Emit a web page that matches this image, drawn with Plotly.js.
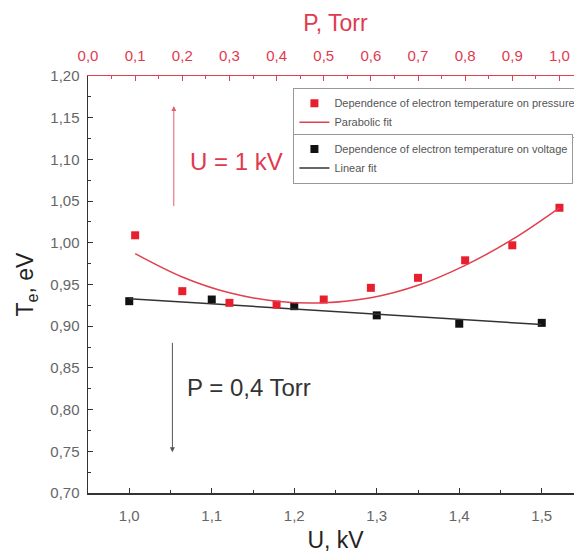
<!DOCTYPE html>
<html>
<head>
<meta charset="utf-8">
<script src="https://cdn.plot.ly/plotly-3.0.1.min.js"></script>
<style>
html,body{margin:0;padding:0;overflow:hidden;background:#fff;}
#chart{width:600px;height:553px;}
</style>
</head>
<body>
<div id="chart"></div>
<script>
// Voltage series (bottom axis)
const U_kV = [1.0, 1.1, 1.2, 1.3, 1.4, 1.5];
const Te_vs_U = [0.930, 0.932, 0.924, 0.913, 0.903, 0.904];
// Linear fit (at its ends)
const fitU_kV = [1.0, 1.5];
const fitTe_U = [0.933, 0.902];

// Pressure series (top axis)
const P_Torr = [0.1, 0.2, 0.3, 0.4, 0.5, 0.6, 0.7, 0.8, 0.9, 1.0];
const Te_vs_P = [1.009, 0.942, 0.928, 0.926, 0.932, 0.946, 0.958, 0.979, 0.997, 1.042];
// Parabolic fit
const fitP_Torr = [0.1, 0.2, 0.3, 0.4, 0.5, 0.6, 0.7, 0.8, 0.9, 1.0];
const fitTe_P = [0.987, 0.959, 0.940, 0.930, 0.928, 0.934, 0.949, 0.973, 1.004, 1.042];

const RED = '#e8202e';
const REDLINE = '#e0404f';
const REDTXT = '#e03a50';
const FONT = 'Liberation Sans, Arial, sans-serif';

const traces = [
  {x: P_Torr, y: Te_vs_P, xaxis: 'x2', yaxis: 'y', mode: 'markers', type: 'scatter',
   name: 'Dependence of electron temperature on pressure',
   marker: {symbol: 'square', size: 8, color: RED}, legend: 'legend'},
  {x: fitP_Torr, y: fitTe_P, xaxis: 'x2', yaxis: 'y', mode: 'lines', type: 'scatter',
   name: 'Parabolic fit', line: {color: REDLINE, width: 1.5, shape: 'spline'}, legend: 'legend'},
  {x: U_kV, y: Te_vs_U, xaxis: 'x', yaxis: 'y', mode: 'markers', type: 'scatter',
   name: 'Dependence of electron temperature on voltage',
   marker: {symbol: 'square', size: 8, color: '#111'}, legend: 'legend2'},
  {x: fitU_kV, y: fitTe_U, xaxis: 'x', yaxis: 'y', mode: 'lines', type: 'scatter',
   name: 'Linear fit', line: {color: '#333', width: 1.5}, legend: 'legend2'}
];

const legendBase = {
  xanchor: 'left', yanchor: 'top', bgcolor: '#fff', bordercolor: '#999', borderwidth: 1,
  font: {family: FONT, size: 11, color: '#555'}, itemwidth: 30, tracegroupgap: 0
};

const layout = {
  width: 600, height: 553,
  margin: {l: 88, r: 17, t: 76, b: 60},
  paper_bgcolor: '#fff', plot_bgcolor: '#fff',
  separators: ',.',
  font: {family: FONT, color: '#333'},
  showlegend: true,
  legend: Object.assign({x: 0.415, y: 0.972}, legendBase),
  legend2: Object.assign({x: 0.415, y: 0.862}, legendBase),
  xaxis: {
    range: [0.95, 1.55], tick0: 1.0, dtick: 0.1, tickformat: '.1f',
    ticks: 'inside', ticklen: 5, tickcolor: '#333', tickwidth: 1,
    minor: {tick0: 0.95, dtick: 0.05, ticks: 'inside', ticklen: 3, tickcolor: '#333'},
    showline: true, linecolor: '#333', linewidth: 1.5, showgrid: false, zeroline: false,
    tickfont: {family: FONT, size: 15, color: '#666'}, ticklabelstandoff: 8,
    title: {text: 'U, kV', font: {family: FONT, size: 23, color: '#222'}, standoff: 16}
  },
  xaxis2: {
    overlaying: 'x', side: 'top', anchor: 'y',
    range: [0, 1.05], tick0: 0, dtick: 0.1, tickformat: '.1f',
    ticks: 'inside', ticklen: 5, tickcolor: REDLINE, tickwidth: 1,
    minor: {tick0: 0, dtick: 0.05, ticks: 'inside', ticklen: 3, tickcolor: REDLINE},
    showline: true, linecolor: REDLINE, linewidth: 1.5, showgrid: false, zeroline: false,
    tickfont: {family: FONT, size: 15, color: REDTXT}, ticklabelstandoff: 8,
    title: {text: 'P, Torr', font: {family: FONT, size: 23, color: REDTXT}, standoff: 8}
  },
  yaxis: {
    range: [0.70, 1.20], tick0: 0.70, dtick: 0.05, tickformat: '.2f',
    ticks: 'inside', ticklen: 5, tickcolor: '#333', tickwidth: 1,
    minor: {tick0: 0.70, dtick: 0.025, ticks: 'inside', ticklen: 3, tickcolor: '#333'},
    showline: true, linecolor: '#333', linewidth: 1.5, showgrid: false, zeroline: false,
    tickfont: {family: FONT, size: 15, color: '#666'}, ticklabelstandoff: 4,
    title: {text: 'T<sub>e</sub>, eV', font: {family: FONT, size: 23, color: '#222'}, standoff: 10}
  },
  annotations: [
    {x: 1.054, y: 1.164, xref: 'x', yref: 'y', ax: 1.054, ay: 1.041, axref: 'x', ayref: 'y',
     showarrow: true, arrowhead: 2, arrowsize: 1, arrowwidth: 1, arrowcolor: '#e0606e',
     text: '\u00a0', font: {size: 2}},
    {x: 1.071, y: 1.098, xref: 'x', yref: 'y', xanchor: 'left', yanchor: 'middle', showarrow: false,
     text: 'U = 1 kV', font: {family: FONT, size: 24, color: REDTXT}},
    {x: 1.0523, y: 0.749, xref: 'x', yref: 'y', ax: 1.0523, ay: 0.883, axref: 'x', ayref: 'y',
     showarrow: true, arrowhead: 2, arrowsize: 1, arrowwidth: 1, arrowcolor: '#555',
     text: '\u00a0', font: {size: 2}},
    {x: 1.0677, y: 0.827, xref: 'x', yref: 'y', xanchor: 'left', yanchor: 'middle', showarrow: false,
     text: 'P = 0,4 Torr', font: {family: FONT, size: 24, color: '#333'}}
  ]
};

Plotly.newPlot('chart', traces, layout, {displayModeBar: false, staticPlot: true});
</script>
</body>
</html>
